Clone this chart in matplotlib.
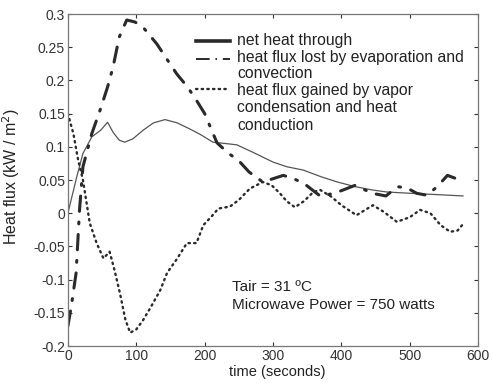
import matplotlib
matplotlib.use("Agg")
import matplotlib.pyplot as plt
import numpy as np

plt.rcParams["font.family"] = ["Liberation Sans", "DejaVu Sans"]

# net heat through (thin solid)
net_t = [0, 13, 22, 35, 48, 58, 66, 75, 83, 95, 110, 125, 142, 160, 178, 193,
         212, 230, 247, 270, 300, 320, 344, 370, 394, 420, 445, 466, 500, 540, 578]
net_v = [0.0, 0.055, 0.09, 0.115, 0.125, 0.137, 0.122, 0.110, 0.107, 0.112, 0.125,
         0.136, 0.141, 0.136, 0.127, 0.119, 0.107, 0.105, 0.103, 0.092, 0.077,
         0.070, 0.065, 0.055, 0.047, 0.040, 0.035, 0.032, 0.030, 0.028, 0.026]

# heat flux lost by evaporation and convection (thick dash-dot)
evap_t = [0, 5, 12, 17, 22, 35, 47, 58, 66, 75, 86, 98, 110, 130, 159, 175, 188,
          200, 218, 235, 249, 265, 285, 300, 315, 330, 345, 370, 395, 420, 445,
          465, 482, 496, 510, 525, 540, 555, 568, 578]
evap_v = [-0.17, -0.14, -0.09, 0.005, 0.07, 0.12, 0.155, 0.19, 0.22, 0.265, 0.291,
          0.288, 0.28, 0.255, 0.21, 0.19, 0.17, 0.15, 0.106, 0.09, 0.08, 0.062,
          0.047, 0.052, 0.057, 0.052, 0.045, 0.025, 0.032, 0.042, 0.030, 0.026,
          0.040, 0.038, 0.030, 0.027, 0.040, 0.057, 0.052, 0.045]

# heat flux gained by vapor condensation and heat conduction (dotted)
cond_t = [0, 8, 15, 22, 32, 42, 52, 61, 68, 76, 84, 91, 100, 110, 122, 135, 145,
          160, 174, 188, 198, 210, 220, 237, 250, 266, 285, 298, 310, 320, 332,
          345, 359, 369, 385, 400, 422, 446, 462, 481, 500, 515, 530, 545, 559,
          570, 578]
cond_v = [0.15, 0.12, 0.08, 0.05, -0.015, -0.045, -0.068, -0.058, -0.085, -0.12,
          -0.16, -0.18, -0.175, -0.161, -0.14, -0.116, -0.09, -0.068, -0.045,
          -0.045, -0.018, -0.005, 0.007, 0.01, 0.02, 0.037, 0.047, 0.042, 0.03,
          0.018, 0.009, 0.018, 0.032, 0.035, 0.025, 0.012, -0.003, 0.012, 0.002,
          -0.013, -0.006, 0.005, 0.0, -0.018, -0.028, -0.026, -0.016]

x_ticks = [0, 100, 200, 300, 400, 500, 600]
y_ticks = [-0.2, -0.15, -0.1, -0.05, 0, 0.05, 0.1, 0.15, 0.2, 0.25, 0.3]
y_tick_labels = ["-0.2", "-0.15", "-0.1", "-0.05", "0", "0.05", "0.1", "0.15",
                 "0.2", "0.25", "0.3"]
legend_labels = [["net heat through"],
                 ["heat flux lost by evaporation and", "convection"],
                 ["heat flux gained by vapor", "condensation and heat", "conduction"]]

ink = "#2a2a2a"

fig = plt.figure(figsize=(4.92, 3.83), dpi=100)
ax = fig.add_axes([0.138, 0.0966, 0.834, 0.8668])

ax.plot(net_t, net_v, color="#555555", lw=0.9, solid_capstyle="round")
ax.plot(evap_t, evap_v, color=ink, lw=2.2, linestyle=(0, (5, 3.5, 0.6, 3.5)),
        dash_capstyle="round")
ax.plot(cond_t, cond_v, color=ink, lw=1.7, linestyle=(0, (0.6, 1.8)),
        dash_capstyle="round")

ax.set_xlim(0, 600)
ax.set_ylim(-0.2, 0.3)
ax.set_xticks(x_ticks)
ax.set_yticks(y_ticks)
ax.set_yticklabels(y_tick_labels)
ax.tick_params(direction="in", top=True, right=True, length=3, width=0.8,
               labelsize=10, colors="#333333", pad=2)
for s in ax.spines.values():
    s.set_color("#777777")
    s.set_linewidth(0.9)

ax.set_xlabel("time (seconds)", fontsize=10.5, color="#222222")
ax.xaxis.set_label_coords(0.509, -0.058)
ax.set_ylabel("Heat flux (kW / m$^2$)", fontsize=11.5, color="#222222")
ax.yaxis.set_label_coords(-0.113, 0.509)

# legend drawn by hand so the handles sit on the first line of each label
tr = ax.transAxes
hx = [0.312, 0.396]
line_y = [0.919, 0.870, 0.822, 0.771, 0.717, 0.663]
ax.plot(hx, [0.919, 0.919], transform=tr, color=ink, lw=2.6)
ax.plot(hx, [0.866, 0.866], transform=tr, color=ink, lw=1.4,
        linestyle=(0, (7, 3, 0.8, 3)))
ax.plot(hx, [0.775, 0.775], transform=tr, color=ink, lw=1.7,
        linestyle=(0, (0.6, 1.8)), dash_capstyle="round")
k = 0
for group in legend_labels:
    for line in group:
        ax.text(0.412, line_y[k], line, transform=tr, fontsize=11.3,
                color="#222222", va="center", ha="left")
        k += 1

ax.text(0.4, 0.178, "Tair = 31 \u00baC", transform=tr, fontsize=11,
        color="#222222", va="center", ha="left")
ax.text(0.4, 0.123, "Microwave Power = 750 watts", transform=tr, fontsize=11,
        color="#222222", va="center", ha="left")

fig.savefig("out.png", dpi=100)
